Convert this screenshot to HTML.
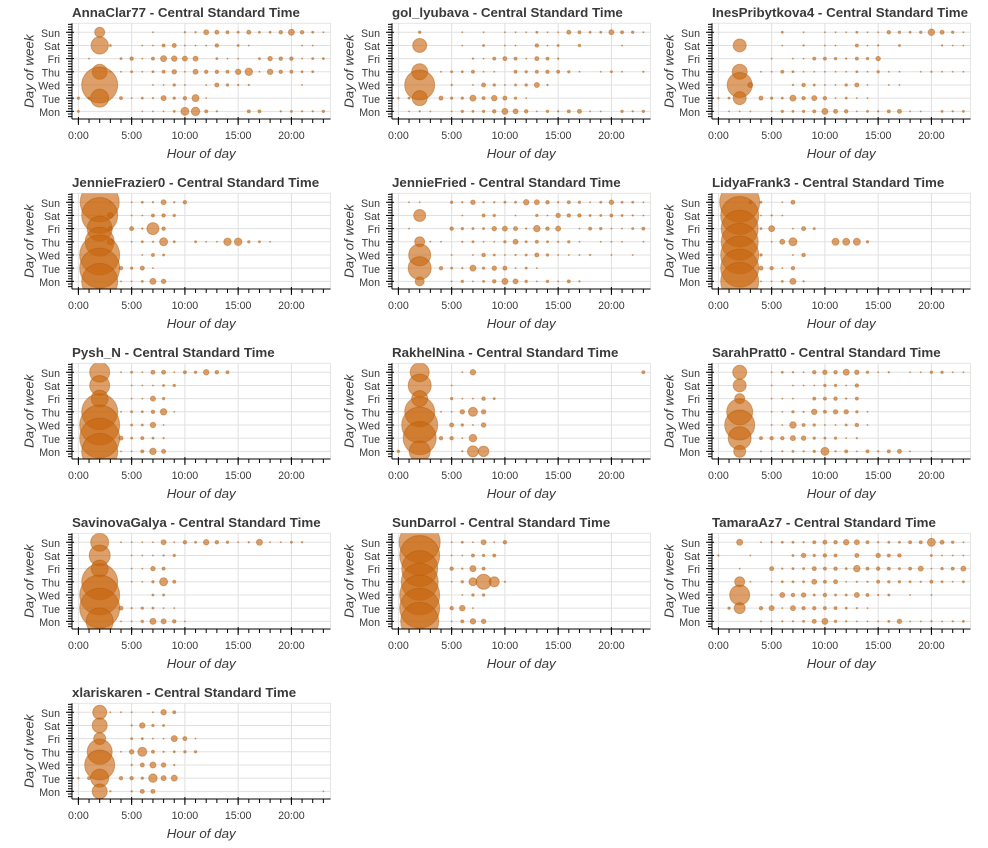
<!DOCTYPE html>
<html lang="en">
<head>
<meta charset="utf-8">
<title>Activity by hour and day</title>
<style>
  html, body { margin: 0; padding: 0; background: #fff; }
  svg { display: block; }
  text { font-family: "Liberation Sans", sans-serif; fill: #3a3a3a; }
</style>
</head>
<body>
<svg id="chart" xmlns="http://www.w3.org/2000/svg" width="988" height="848" viewBox="0 0 988 848"></svg>
<script>
const dayLabels = ["Sun", "Sat", "Fri", "Thu", "Wed", "Tue", "Mon"];
const hourTicks = [0, 5, 10, 15, 20];
const hourTickLabels = ["0:00", "5:00", "10:00", "15:00", "20:00"];
const timezoneLabel = "Central Standard Time";

const annaClar77 = [
  [0,0,100,0,0,0,0,1,0,0,2,2,25,16,9,4,16,4,4,12,36,12,4,1],
  [0,0,300,4,0,0,1,1,9,16,1,1,1,12,0,4,1,0,0,0,0,1,1],
  [0,1,0,0,4,12,1,9,36,30,25,25,0,4,1,1,0,4,20,12,12,1,4,4],
  [0,0,225,1,1,4,1,4,9,20,1,25,12,12,9,30,56,1,30,12,9,4,4],
  [0,0,1296,0,0,0,0,1,1,6,1,0,1,16,6,2,2,0,0,0,0,1],
  [6,4,324,0,9,1,4,2,25,6,12,49,1],
  [4,0,0,0,0,0,1,1,1,4,64,72,9,2,0,0,9,9,0,2,4,2,2,6]
];
const golLyubava = [
  [0,0,6,0,0,0,1,0,1,0,1,1,1,4,1,1,16,9,4,4,25,9,6,1],
  [0,0,196,0,0,0,1,0,4,0,1,1,0,12,1,4,0,6,0,0,0,1],
  [0,0,0,0,0,0,0,2,1,9,16,9,1,16,9,2],
  [0,0,256,0,1,4,4,9,1,1,0,9,6,9,12,9,6,1,0,1,4,1,0,2],
  [0,0,900,0,0,2,0,1,16,6,1,4,6,25,2],
  [2,4,225,0,16,6,6,36,9,30,16,6,1],
  [0,1,2,1,0,1,6,4,6,12,36,25,12,1,6,2,9,16,1,1,0,6,2,6]
];
const inesPribytkova4 = [
  [0,0,0,0,0,0,4,0,1,0,1,1,1,4,1,1,12,6,4,6,42,16,6,1],
  [0,0,169,0,0,0,1,0,2,0,1,1,0,9,1,2,0,4,0,0,0,2,1,1],
  [0,0,0,0,0,1,0,1,1,9,9,6,2,9,6,20],
  [0,0,225,0,1,1,9,4,1,1,1,1,1,4,1,6,1,1,0,1,2,1,1,1],
  [0,0,625,25,0,0,0,2,12,4,1,1,6,16,1,0,1,1],
  [2,4,169,0,16,6,4,36,12,25,12,1,4,1,1],
  [0,1,1,1,0,1,6,4,6,9,36,16,12,1,4,2,9,16,1,1,0,4,2,4]
];
const jennieFrazier0 = [
  [0,0,1521,1,0,1,4,2,25,2,12],
  [0,0,1296,30,0,1,1,9,12,6],
  [0,0,625,16,0,16,2,144,12],
  [0,0,841,36,0,1,4,2,64,4,0,4,1,1,56,56,6,4,1],
  [0,0,1600,0,0,0,1,9,4],
  [0,0,1600,0,12,6,16,1],
  [0,0,1296,0,1,1,4,36,20]
];
const jennieFried = [
  [0,1,1,0,0,6,2,20,2,2,4,4,30,25,12,2,9,6,1,4,20,4,4,1],
  [0,0,144,0,0,0,1,0,9,6,0,1,0,6,1,20,12,12,4,4,9,4,2,1],
  [0,1,0,0,0,12,6,4,4,20,25,16,2,42,12,25,0,1,9,6,1,1,4,9],
  [0,0,100,1,1,0,2,4,1,1,6,25,4,9,4,2,6,1,0,1,1,1,0,1],
  [0,0,484,0,0,1,0,1,12,4,1,2,4,16,6,1,1,1,2,0,1,0,1],
  [0,0,529,0,12,4,2,36,6,20,16,1,4,1],
  [0,0,81,0,0,1,6,1,4,12,36,25,6,1,6,1,9,2]
];
const lidyaFrank3 = [
  [0,0,1600,9,4,0,1,16],
  [0,0,1444,0,1,2,1],
  [0,0,1369,0,4,36,0,1,16,4],
  [0,0,1369,0,0,1,25,64,0,0,0,49,49,49,6],
  [0,0,1444,0,6,0,0,1,12],
  [0,0,1444,0,16,12,1,12],
  [0,0,1444,0,1,1,4,36,2]
];
const pyshN = [
  [0,0,400,0,1,4,1,16,16,1,9,6,30,12,9],
  [0,0,400,0,0,1,1,1,4,6],
  [0,0,289,0,0,1,1,25,6],
  [0,0,1296,0,1,4,4,12,42,1],
  [0,0,1600,0,0,4,4,30,1],
  [0,0,1600,0,16,4,9,4,2],
  [0,0,1296,0,1,1,9,42,16]
];
const rakhelNina = [
  [0,0,361,0,0,0,1,30,0,0,0,0,0,0,0,0,0,0,0,0,0,0,0,9],
  [0,0,529,0,0,1],
  [0,0,256,0,0,6,1,1,12,4],
  [0,0,900,0,1,1,20,81,20],
  [0,0,1296,0,0,16,6,1,20],
  [0,0,1089,0,12,12,1,56],
  [6,0,441,0,0,0,2,121,110]
];
const sarahPratt0 = [
  [0,0,196,0,0,1,4,2,1,12,20,12,36,20,6,1,2,0,1,1,6,6,1,1],
  [0,0,169,0,0,1,0,1,1,1,6,6,1,12],
  [0,0,100,0,0,1,1,1,0,9,9,12,2,9],
  [0,0,676,0,0,1,1,6,2,30,9,20,20,6,1],
  [0,0,900,0,0,1,1,42,9,6,1,1,4,12,1],
  [0,0,529,0,9,12,12,25,20,6,4,6,1,2],
  [0,0,144,0,1,1,2,4,2,6,64,2,9,1,9,2,9,16,1,0,1]
];
const savinovaGalya = [
  [0,0,324,0,1,1,1,1,25,1,12,4,30,12,6,1,2,36,1,1,4,2],
  [0,0,441,0,0,1,1,1,2,6],
  [0,0,289,0,0,1,1,20,9],
  [0,0,1296,0,0,1,1,6,64,9],
  [0,0,1600,0,0,0,0,4,4],
  [0,0,1600,0,16,2,6,4,1,1],
  [0,0,729,0,1,1,6,36,25,12,1]
];
const sunDarrol = [
  [0,0,1681,0,0,1,4,1,25,1,12],
  [0,0,1600,0,0,1,1,9,6,9],
  [0,0,1296,0,0,12,2,36,9],
  [0,0,1369,0,0,1,6,64,225,100,2],
  [0,0,1600,0,0,0,1,6,6],
  [0,0,1600,0,0,12,30,1],
  [0,0,1444,0,0,1,9,30,20]
];
const tamaraAz7 = [
  [0,0,36,0,1,2,4,4,2,9,16,12,30,25,9,2,4,4,9,9,64,16,6,1],
  [2,0,0,1,0,0,0,4,20,6,12,9,0,16,0,20,9,12,0,0,4,1,1,1],
  [0,0,1,0,0,16,2,4,4,16,9,12,4,42,9,12,9,4,9,25,1,6,9,25],
  [0,0,100,1,0,1,4,4,4,25,9,16,1,2,2,9,6,6,4,2,9,4,1,4],
  [0,0,400,0,0,1,25,12,20,4,12,4,4,25,9,2,4,0,1,0,1],
  [0,6,121,0,12,25,1,25,12,12,9,9,4,2,1],
  [0,0,0,0,1,1,2,2,4,16,36,6,2,1,1,1,4,20,1,1,2,1,2,4]
];
const xlariskaren = [
  [0,0,196,1,1,1,0,1,30,9],
  [0,0,225,0,0,2,30,6,4],
  [0,0,144,0,0,4,4,1,1,36,16,1],
  [0,0,625,0,1,20,81,9,2,4,6,6],
  [0,0,900,0,0,2,16,36,20,2],
  [2,9,324,0,12,12,6,72,25,36],
  [0,0,225,2,0,2,16,16,0,0,0,0,0,0,0,0,0,0,0,0,0,0,0,1]
];

const userNames = ["AnnaClar77", "gol_lyubava", "InesPribytkova4", "JennieFrazier0", "JennieFried", "LidyaFrank3", "Pysh_N", "RakhelNina", "SarahPratt0", "SavinovaGalya", "SunDarrol", "TamaraAz7", "xlariskaren"];
const userCounts = [annaClar77, golLyubava, inesPribytkova4, jennieFrazier0, jennieFried, lidyaFrank3, pyshN, rakhelNina, sarahPratt0, savinovaGalya, sunDarrol, tamaraAz7, xlariskaren];

const SVGNS = "http://www.w3.org/2000/svg";
const svg = document.getElementById("chart");
const plotW = 258.5, plotH = 95.7, plotX = 72, plotY = 23.3;
const hourMin = -0.6, hourMax = 23.67, dayMin = -0.68, dayMax = 6.58;

function xScale(hour) { return (hour - hourMin) / (hourMax - hourMin) * plotW; }
function yScale(dayIndex) { return (dayIndex - dayMin) / (dayMax - dayMin) * plotH; }
function sizeScale(count) { return Math.sqrt(count) / 2; }

function make(parent, tag, attrs, text) {
  const el = document.createElementNS(SVGNS, tag);
  for (const k in attrs) el.setAttribute(k, attrs[k]);
  if (text !== undefined) el.textContent = text;
  parent.appendChild(el);
  return el;
}

const defs = make(svg, "defs", {});



userNames.forEach(function (user, index) {
  const col = index % 3, row = Math.floor(index / 3);
  const panel = make(svg, "g", { transform: "translate(" + (plotX + col * 320) + "," + (plotY + row * 170) + ")" });
  
  

  const clip = make(defs, "clipPath", { id: "clip" + index });
  make(clip, "rect", { x: 0, y: 0, width: plotW, height: plotH });

  const frame = make(panel, "rect", { x: 0, y: 0, width: plotW, height: plotH, fill: "#fff", stroke: "#e5e5e5", "stroke-width": 1 });
  
  

  hourTicks.forEach(function (h) {
    const line = make(panel, "line", { x1: xScale(h), x2: xScale(h), y1: 0, y2: plotH, stroke: "#e0e0e0", "stroke-width": 1 });
    
    
  });
  dayLabels.forEach(function (d, i) {
    const line = make(panel, "line", { x1: 0, x2: plotW, y1: yScale(i), y2: yScale(i), stroke: "#e0e0e0", "stroke-width": 1 });
    
    
  });

  const marks = make(panel, "g", { "clip-path": "url(#clip" + index + ")" });
  
  
  userCounts[index].forEach(function (hours, dayIndex) {
    hours.forEach(function (count, hour) {
      if (!count) return;
      const c = make(marks, "circle", {
        cx: xScale(hour), cy: yScale(dayIndex), r: sizeScale(count),
        fill: "#c8660e", "fill-opacity": 0.62, stroke: "#b05a0c", "stroke-opacity": 0.45, "stroke-width": 1
      });
      
      
    });
  });

  const yAxis = make(panel, "g", {});
  
  
  make(yAxis, "line", { x1: 0, x2: 0, y1: 0, y2: plotH, stroke: "#000", "stroke-width": 1 });
  for (let m = 0; m < 36; m++) {
    const pos = 6.4 - m * 0.2;
    if (pos < dayMin || pos > dayMax) continue;
    make(yAxis, "line", { x1: -4, x2: 0, y1: yScale(pos), y2: yScale(pos), stroke: "#000", "stroke-width": 1 });
  }
  dayLabels.forEach(function (d, i) {
    make(yAxis, "line", { x1: -6, x2: 2, y1: yScale(i), y2: yScale(i), stroke: "#000", "stroke-width": 1 });
    const t = make(yAxis, "text", { x: -12, y: yScale(i) + 4.6, "text-anchor": "end", "font-size": "10.67px" }, d);
    
    
  });

  const xAxis = make(panel, "g", {});
  
  
  make(xAxis, "line", { x1: 0, x2: plotW, y1: plotH, y2: plotH, stroke: "#000", "stroke-width": 1 });
  for (let h = 0; h < 24; h++) {
    make(xAxis, "line", { x1: xScale(h), x2: xScale(h), y1: plotH, y2: plotH + 4, stroke: "#000", "stroke-width": 1 });
  }
  hourTicks.forEach(function (h, i) {
    make(xAxis, "line", { x1: xScale(h), x2: xScale(h), y1: plotH - 2, y2: plotH + 6, stroke: "#000", "stroke-width": 1 });
    const t = make(xAxis, "text", { x: xScale(h), y: plotH + 20, "text-anchor": "middle", "font-size": "10.67px" }, hourTickLabels[i]);
    
    
  });

  const title = make(panel, "text", { x: 0, y: -6.5, "font-size": "13.33px", "font-weight": "bold" }, user + " - " + timezoneLabel);
  
  

  const xTitle = make(panel, "text", { x: plotW / 2, y: plotH + 39, "text-anchor": "middle", "font-size": "13.33px", "font-style": "italic" }, "Hour of day");
  
  

  const yTitle = make(panel, "text", { transform: "translate(-38.5," + (plotH / 2) + ") rotate(-90)", "text-anchor": "middle", "font-size": "13.33px", "font-style": "italic" }, "Day of week");
  
  
});
</script>
</body>
</html>
